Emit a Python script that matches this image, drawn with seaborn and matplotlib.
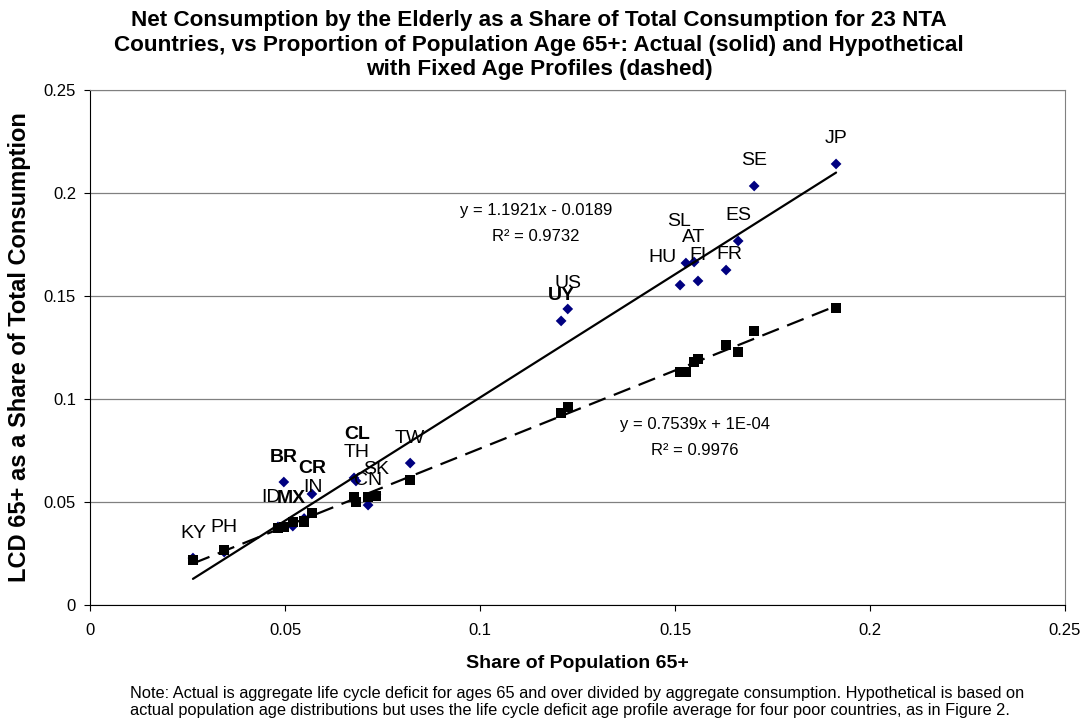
import numpy as np
import pandas as pd
import matplotlib
matplotlib.use("Agg")
import matplotlib.pyplot as plt
import seaborn as sns

# country codes and values
countries = ["KY", "PH", "ID", "BR", "MX", "IN", "CR", "TH", "CL", "CN", "SK",
             "TW", "UY", "US", "HU", "SL", "AT", "FI", "FR", "ES", "SE", "JP"]
share_65 = [0.0264, 0.0344, 0.0482, 0.0497, 0.0520, 0.0549, 0.0569, 0.0677,
            0.0682, 0.0713, 0.0733, 0.0821, 0.1208, 0.1225, 0.1513, 0.1528,
            0.1549, 0.1559, 0.1631, 0.1662, 0.1703, 0.1913]
actual_lcd = [0.0228, 0.0257, 0.0379, 0.0597, 0.0383, 0.0420, 0.0539, 0.0617,
              0.0602, 0.0485, 0.0535, 0.0689, 0.1379, 0.1437, 0.1553, 0.1660,
              0.1665, 0.1573, 0.1626, 0.1767, 0.2034, 0.2141]
hypo_lcd = [0.0218, 0.0267, 0.0374, 0.0379, 0.0403, 0.0405, 0.0447, 0.0524,
            0.0500, 0.0524, 0.0530, 0.0607, 0.0932, 0.0961, 0.1131, 0.1131,
            0.1180, 0.1194, 0.1262, 0.1228, 0.1330, 0.1442]
bold_labels = ["BR", "CR", "CL", "MX", "UY"]
tick_vals = [0, 0.05, 0.1, 0.15, 0.2, 0.25]
tick_labels = ["0", "0.05", "0.1", "0.15", "0.2", "0.25"]

title = ("Net Consumption by the Elderly as a Share of Total Consumption for 23 NTA\n"
         "Countries, vs Proportion of Population Age 65+: Actual (solid) and Hypothetical\n"
         "with Fixed Age Profiles (dashed)")
note = ("Note: Actual is aggregate life cycle deficit for ages 65 and over divided by aggregate consumption. Hypothetical is based on\n"
        "actual population age distributions but uses the life cycle deficit age profile average for four poor countries, as in Figure 2.")

# label offsets in pixels (dx, dy), default is straight above the point
label_offsets = {"HU": (-18, 28), "SL": (-7, 42), "FR": (3, 16), "CL": (1, 46),
                 "TH": (3, 25), "ID": (-7, 29), "MX": (-1, 28), "IN": (9, 31)}

df = pd.DataFrame({"country": countries, "share": share_65,
                   "actual": actual_lcd, "hypo": hypo_lcd})

sns.set_style("white")
plt.rcParams["font.family"] = ["Liberation Sans", "DejaVu Sans"]
plt.rcParams["text.color"] = "black"
plt.rcParams["axes.labelcolor"] = "black"
plt.rcParams["xtick.color"] = "black"
plt.rcParams["ytick.color"] = "black"

fig = plt.figure(figsize=(10.81, 7.26), dpi=100)
ax = fig.add_axes([90 / 1081, 121 / 726, 975 / 1081, 515 / 726])

# fitted lines
sns.regplot(data=df, x="share", y="actual", scatter=False, ci=None, truncate=True,
            line_kws=dict(color="black", lw=1.6, zorder=3), ax=ax)
sns.regplot(data=df, x="share", y="hypo", scatter=False, ci=None, truncate=True,
            line_kws=dict(color="black", lw=1.6, dashes=(8, 4), zorder=3), ax=ax)

sns.scatterplot(data=df, x="share", y="actual", marker="D", color="#000080",
                s=30, edgecolor="none", zorder=2, ax=ax)
sns.scatterplot(data=df, x="share", y="hypo", marker="s", color="black",
                s=55, edgecolor="none", zorder=4, ax=ax)

for c, x, y in zip(countries, share_65, actual_lcd):
    dx, dy = label_offsets.get(c, (0, 25))
    ax.annotate(c, (x, y), xytext=(dx, dy), textcoords="offset pixels",
                ha="center", va="center", fontsize=14,
                fontweight="bold" if c in bold_labels else "normal", zorder=5)

ax.text(0.1144, 0.1913, "y = 1.1921x - 0.0189", ha="center", va="center", fontsize=12)
ax.text(0.1144, 0.1791, "R\u00b2 = 0.9732", ha="center", va="center", fontsize=12)
ax.text(0.1551, 0.0874, "y = 0.7539x + 1E-04", ha="center", va="center", fontsize=12)
ax.text(0.1551, 0.0752, "R\u00b2 = 0.9976", ha="center", va="center", fontsize=12)

ax.set_xlim(0, 0.25)
ax.set_ylim(0, 0.25)
ax.set_xticks(tick_vals)
ax.set_xticklabels(tick_labels)
ax.set_yticks(tick_vals)
ax.set_yticklabels(tick_labels)
ax.tick_params(axis="both", labelsize=12, length=4, width=0.8, direction="out",
               bottom=True, left=True, color="black")
ax.tick_params(axis="x", pad=9)
ax.tick_params(axis="y", pad=6)
ax.yaxis.grid(True, color="#808080", lw=0.9)
ax.xaxis.grid(False)
ax.set_axisbelow(True)
ax.set_xlabel("")
ax.set_ylabel("")
for s in ["left", "bottom"]:
    ax.spines[s].set_color("black")
for s in ["top", "right"]:
    ax.spines[s].set_color("#808080")

fig.text(539 / 1081, 1 - 10 / 726, title, ha="center", va="top", fontsize=16.2,
         fontweight="bold", linespacing=1.22)
fig.text(577 / 1081, 1 - 663 / 726, "Share of Population 65+", ha="center", va="center",
         fontsize=14, fontweight="bold")
fig.text(20 / 1081, 1 - 347 / 726, "LCD 65+ as a Share of Total Consumption", ha="center",
         va="center", rotation=90, fontsize=17, fontweight="bold")
fig.text(130 / 1081, 1 - 702 / 726, note, ha="left", va="center", fontsize=11.75,
         linespacing=1.2)

fig.savefig("out.png", dpi=100)
